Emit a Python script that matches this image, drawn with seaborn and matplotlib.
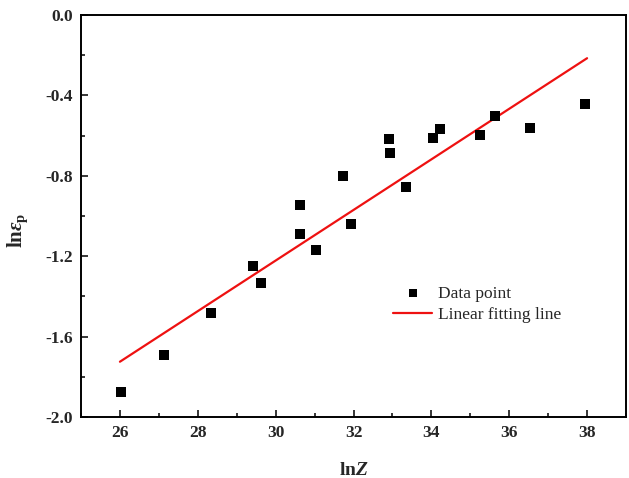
import matplotlib
matplotlib.use("Agg")
import matplotlib.pyplot as plt
from matplotlib.ticker import MultipleLocator
import seaborn as sns
import pandas as pd

# Data
ln_z = [26.02, 27.13, 28.33, 29.43, 29.62, 30.63, 30.63, 31.03, 31.74, 31.94,
        32.92, 32.93, 33.34, 34.03, 34.23, 35.24, 35.63, 36.54, 37.94]
ln_eps = [-1.874, -1.690, -1.481, -1.247, -1.335, -0.944, -1.091, -1.168, -0.800, -1.038,
          -0.619, -0.688, -0.854, -0.610, -0.567, -0.595, -0.502, -0.564, -0.441]
fit_x = [26.0, 38.0]
fit_y = [-1.725, -0.215]

x_ticks = [26, 28, 30, 32, 34, 36, 38]
y_ticks = [-2.0, -1.6, -1.2, -0.8, -0.4, 0.0]

sns.set_style("ticks")
plt.rcParams["font.family"] = ["Liberation Serif", "DejaVu Serif"]
plt.rcParams["mathtext.fontset"] = "custom"
plt.rcParams["mathtext.rm"] = "Liberation Serif:bold"
plt.rcParams["mathtext.bf"] = "Liberation Serif:bold"
plt.rcParams["mathtext.it"] = "Liberation Serif:italic:bold"

pts = pd.DataFrame({"x": ln_z, "y": ln_eps})
fit = pd.DataFrame({"x": fit_x, "y": fit_y})

fig = plt.figure(figsize=(6.29, 4.78), dpi=100)
ax = fig.add_axes([81/629, 61/478, 545/629, 402/478])

sns.lineplot(data=fit, x="x", y="y", ax=ax, color="#ee1111", lw=1.6,
             label="Linear fitting line", zorder=2)
sns.scatterplot(data=pts, x="x", y="y", ax=ax, marker="s", s=52, color="black",
                edgecolor="none", label="Data point", zorder=3)

ax.set_xlim(25, 39)
ax.set_ylim(-2.0, 0.0)
ax.set_xticks(x_ticks)
ax.set_xticklabels([str(v) for v in x_ticks])
ax.set_yticks(y_ticks)
ax.set_yticklabels([f"{v:.1f}" for v in y_ticks])
ax.xaxis.set_minor_locator(MultipleLocator(1))
ax.yaxis.set_minor_locator(MultipleLocator(0.2))
ax.tick_params(which="both", direction="in", top=False, right=False, width=1.3)
ax.tick_params(which="major", length=5, labelsize=12.5, pad=6)
ax.tick_params(which="minor", length=3)
for lab in ax.get_xticklabels() + ax.get_yticklabels():
    lab.set_fontweight("bold")
for sp in ax.spines.values():
    sp.set_visible(True)
    sp.set_linewidth(1.4)
    sp.set_color("black")

ax.set_xlabel(r"$\mathrm{ln}\mathit{Z}$", fontsize=14, labelpad=15)
ax.set_ylabel(r"$\mathrm{ln}\mathit{\varepsilon}_{\mathrm{p}}$", fontsize=15)
ax.yaxis.set_label_coords(-0.093, 0.465)

handles, labels = ax.get_legend_handles_labels()
order = [labels.index("Data point"), labels.index("Linear fitting line")]
leg = ax.legend([handles[i] for i in order], [labels[i] for i in order],
                loc="center left", bbox_to_anchor=(0.543, 0.280), frameon=False,
                fontsize=12.5, handlelength=2.3, handletextpad=0.3,
                labelspacing=0.3, markerscale=0.8)

fig.savefig("out.png", dpi=100)
